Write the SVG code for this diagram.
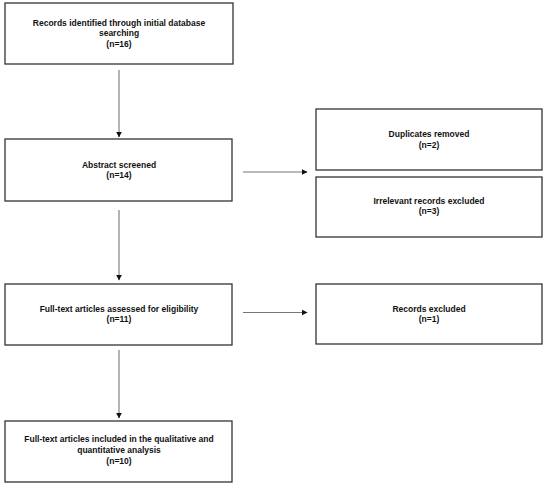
<svg xmlns="http://www.w3.org/2000/svg" width="550" height="490" viewBox="0 0 550 490">
<style>
.box{fill:#fff;stroke:#333;stroke-width:1.3}
.t{font-family:"Liberation Sans",Arial,sans-serif;font-weight:bold;font-size:8.5px;fill:#111;text-anchor:middle}
.c{stroke:#777;stroke-width:1.1;fill:none;marker-end:url(#ah)}
</style>
<defs>
<marker id="ah" viewBox="0 0 10 10" refX="9" refY="5" markerWidth="6" markerHeight="6" markerUnits="userSpaceOnUse" orient="auto">
<path d="M0,0 L10,5 L0,10 z" fill="#111"/>
</marker>
</defs>
<rect width="550" height="490" fill="#fff"/>
<g id="connectors">
<line class="c" x1="119" y1="70" x2="119" y2="137"/>
<line class="c" x1="243" y1="172" x2="307" y2="172"/>
<line class="c" x1="119" y1="210" x2="119" y2="280"/>
<line class="c" x1="243" y1="312.5" x2="307" y2="312.5"/>
<line class="c" x1="119" y1="350" x2="119" y2="418"/>
</g>
<g id="n1">
<rect class="box" x="5" y="3" width="228" height="61"/>
<text class="t" x="119" y="26">Records identified through initial database</text>
<text class="t" x="119" y="36">searching</text>
<text class="t" x="119" y="46.5">(n=16)</text>
</g>
<g id="n2">
<rect class="box" x="5" y="139" width="227" height="62"/>
<text class="t" x="119" y="168">Abstract screened</text>
<text class="t" x="119" y="178">(n=14)</text>
</g>
<g id="n3">
<rect class="box" x="316" y="109" width="226" height="61"/>
<text class="t" x="429" y="137">Duplicates removed</text>
<text class="t" x="429" y="147.5">(n=2)</text>
</g>
<g id="n4">
<rect class="box" x="316" y="177" width="226" height="60"/>
<text class="t" x="429" y="204">Irrelevant records excluded</text>
<text class="t" x="429" y="214">(n=3)</text>
</g>
<g id="n5">
<rect class="box" x="5" y="284" width="227" height="61"/>
<text class="t" x="119" y="312">Full-text articles assessed for eligibility</text>
<text class="t" x="119" y="322">(n=11)</text>
</g>
<g id="n6">
<rect class="box" x="316" y="284" width="226" height="60"/>
<text class="t" x="429" y="312">Records excluded</text>
<text class="t" x="429" y="322">(n=1)</text>
</g>
<g id="n7">
<rect class="box" x="5" y="421" width="227" height="61"/>
<text class="t" x="119" y="442">Full-text articles included in the qualitative and</text>
<text class="t" x="119" y="453">quantitative analysis</text>
<text class="t" x="119" y="464">(n=10)</text>
</g>
</svg>
